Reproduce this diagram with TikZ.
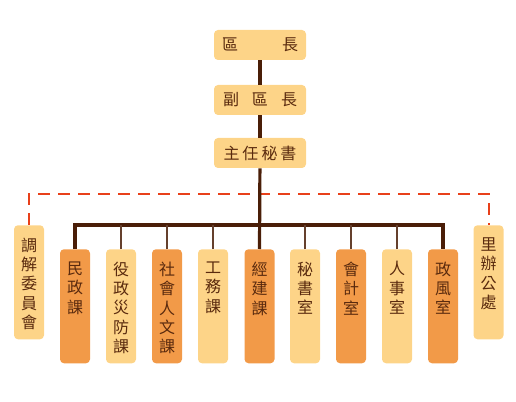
\documentclass[tikz,border=0pt]{standalone}
\usepackage{fontspec}
\newfontfamily\cjkfont{Noto Sans CJK TC}
\usepackage{xcolor}
\usetikzlibrary{positioning, calc}

\definecolor{deeporange}{HTML}{F29A48}
\definecolor{paleorange}{HTML}{FDD488}
\definecolor{linebrown}{HTML}{4A1E08}
\definecolor{dashred}{HTML}{E8401A}
\definecolor{textbrown}{HTML}{5A2A0E}

\newcommand\vlabel[1]{\parbox[t][67pt][t]{14pt}{\centering\fontsize{12}{14.6}\selectfont #1}}

\tikzset{
    topbox/.style={fill=paleorange, rounded corners=3pt, minimum width=69pt, minimum height=22.5pt,
        inner sep=0pt, text=textbrown, font=\cjkfont\fontsize{12}{14}\selectfont},
    deptbox/.style={fill=#1, rounded corners=3pt, minimum width=22.5pt, minimum height=85.5pt,
        inner sep=0pt, anchor=north, text=textbrown},
    mainline/.style={linebrown, line width=2.4pt},
    dropline/.style={linebrown!85, line width=1.5pt},
    dashline/.style={dashred, line width=1.5pt, dash pattern=on 9pt off 6pt}
}

\begin{document}
\begin{tikzpicture}[x=0.75pt, y=-0.75pt, font=\cjkfont]
    \useasboundingbox (0,0) rectangle (516,402);

    % top of the chart
    \node[topbox] (qz)  at (260,45)  {區\hspace{33pt}長};
    \node[topbox] (fqz) at (260,100) {副\hspace{9.75pt}區\hspace{9.75pt}長};
    \node[topbox] (zm)  at (260,153) {主\hspace{2.25pt}任\hspace{2.25pt}秘\hspace{2.25pt}書};

    % side units
    \node[deptbox=paleorange] (tj) at (29,225)    {\vlabel{調\\解\\委\\員\\會}};
    \node[deptbox=paleorange] (lb) at (488.5,225) {\vlabel{里\\辦\\公\\處}};

    % sections
    \foreach \nm/\xpos/\txt/\col in {mz/75/民\\政\\課/deeporange, yz/121/役\\政\\災\\防\\課/paleorange,
        sh/167/社\\會\\人\\文\\課/deeporange, gw/213/工\\務\\課/paleorange, jj/259.5/經\\建\\課/deeporange,
        ms/305/秘\\書\\室/paleorange, kj/351/會\\計\\室/deeporange, rs/397/人\\事\\室/paleorange,
        zf/443/政\\風\\室/deeporange} {
        \node[deptbox=\col] (\nm) at (\xpos,249) {\vlabel{\txt}};
    }

    \coordinate (dashmid) at (260,194);
    \coordinate (busmid) at (260,225);

    \draw[dashline] (tj.north) |- (dashmid) -| (lb.north);

    \draw[mainline] (qz) -- (fqz);
    \draw[mainline] (fqz) -- (zm);
    \draw[mainline] (zm) -- (jj.north);
    \draw[mainline] (mz.north) |- (busmid) -| (zf.north);

    \foreach \nm in {yz, sh, gw, ms, kj, rs} {
        \draw[dropline] (\nm.north) -- (\nm.north |- busmid);
    }
\end{tikzpicture}
\end{document}
